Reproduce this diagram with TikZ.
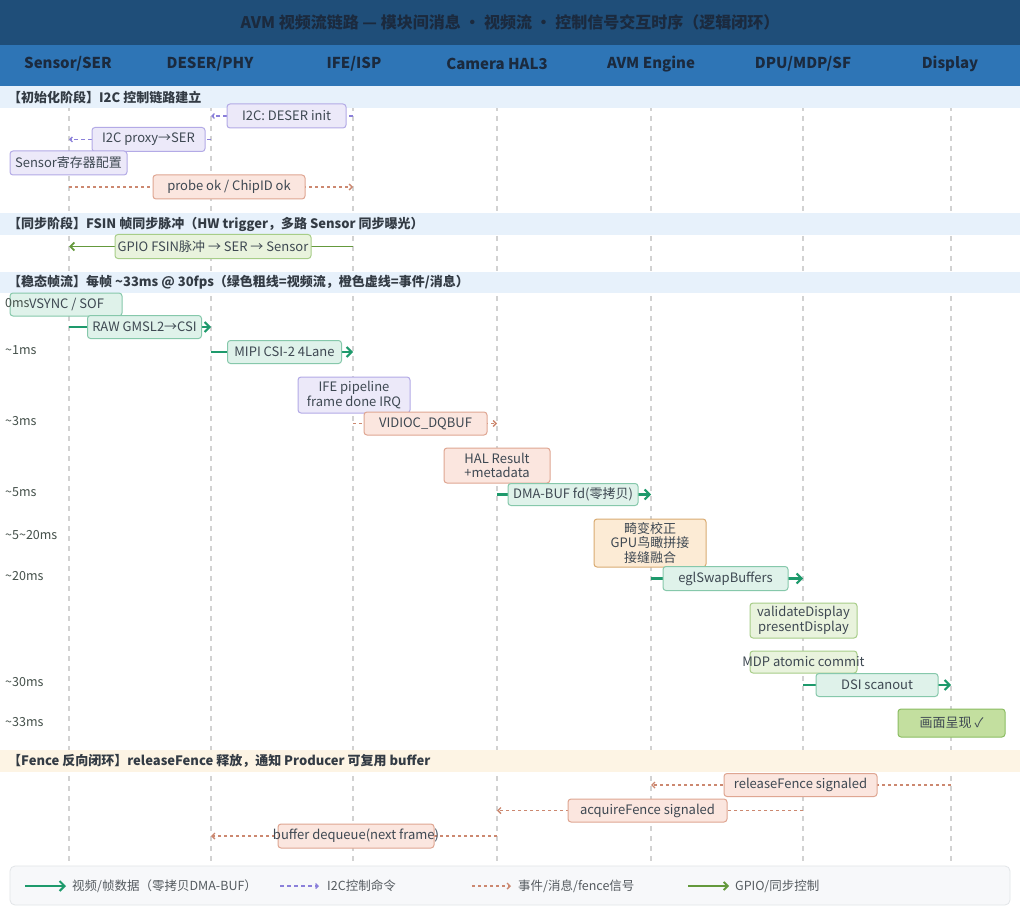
\documentclass[tikz,border=0pt]{standalone}
\usepackage{fontspec}
\setmainfont{Noto Sans CJK SC}
\usetikzlibrary{arrows.meta}
\definecolor{titlebg}{HTML}{1F4E79}
\definecolor{headbg}{HTML}{2E75B6}
\definecolor{headtxt}{HTML}{1B2A3E}
\definecolor{bandblue}{HTML}{E7F1FB}
\definecolor{bandcream}{HTML}{FDF4E4}
\definecolor{bandtxt}{HTML}{333B44}
\definecolor{lifegray}{HTML}{D2D2D2}
\definecolor{videoc}{HTML}{1E9A6C}
\definecolor{i2cc}{HTML}{8B80DA}
\definecolor{evtc}{HTML}{CC8870}
\definecolor{gpioc}{HTML}{64993C}
\definecolor{boxtext}{HTML}{3E4852}
\definecolor{timec}{HTML}{44504A}
\definecolor{pfill}{HTML}{ECE9F9}\definecolor{pdraw}{HTML}{B3AAE6}
\definecolor{ofill}{HTML}{FBE6DF}\definecolor{odraw}{HTML}{DFA692}
\definecolor{tfill}{HTML}{DFF2EA}\definecolor{tdraw}{HTML}{86C8AB}
\definecolor{gfill}{HTML}{E9F3DD}\definecolor{gdraw}{HTML}{A7CD88}
\definecolor{afill}{HTML}{FCEBD5}\definecolor{adraw}{HTML}{D9AB72}
\definecolor{ffill}{HTML}{C3DF9F}\definecolor{fdraw}{HTML}{8BBD62}
\definecolor{legfill}{HTML}{F7F8FA}\definecolor{legdraw}{HTML}{E2E5E8}
\definecolor{legtxt}{HTML}{555B60}
\pgfdeclarelayer{bg}\pgfdeclarelayer{conn}
\pgfsetlayers{bg,conn,main}
\tikzset{
  lifeline/.style={draw=lifegray, line width=1.3pt, dash pattern=on 5pt off 5pt},
  video/.style={draw=videoc, line width=2.2pt, -{Straight Barb[length=5pt,width=10pt,line width=2pt]}},
  i2c/.style={draw=i2cc, line width=1.4pt, dash pattern=on 4pt off 3pt, -{Straight Barb[length=2.5pt,width=5pt]}},
  evt/.style={draw=evtc, line width=1.4pt, dash pattern=on 3pt off 3pt, -{Straight Barb[length=3pt,width=6pt]}},
  gpio/.style={draw=gpioc, line width=1.8pt, -{Straight Barb[length=4pt,width=8pt]}},
  box/.style={rounded corners=3pt, line width=1pt, inner sep=0pt, text=boxtext, align=center,
    font=\fontsize{13}{14.5}\selectfont},
  sz/.style 2 args={minimum width=#1, minimum height=#2},
  pbox/.style={box, fill=pfill, draw=pdraw},
  obox/.style={box, fill=ofill, draw=odraw},
  tbox/.style={box, fill=tfill, draw=tdraw},
  gbox/.style={box, fill=gfill, draw=gdraw},
  abox/.style={box, fill=afill, draw=adraw},
  fbox/.style={box, fill=ffill, draw=fdraw},
  head/.style={text=headtxt, font=\fontsize{15}{17}\selectfont\bfseries, inner sep=0pt},
  bandlabel/.style={anchor=west, inner sep=0pt, text=bandtxt, font=\fontsize{13}{15}\selectfont\bfseries},
  tlabel/.style={anchor=west, inner sep=0pt, text=timec, font=\fontsize{12.5}{14}\selectfont},
  leglabel/.style={anchor=west, inner sep=0pt, text=legtxt, font=\fontsize{12.5}{14}\selectfont},
}
\begin{document}
\begin{tikzpicture}[x=1pt,y=-1pt]
\useasboundingbox (0,0) rectangle (1020,912);
% title and header bars
\fill[titlebg] (0,0) rectangle (1020,45);
\fill[headbg] (0,45) rectangle (1020,86);
\node[text=headtxt, font=\fontsize{16}{18}\selectfont\bfseries, inner sep=0pt] (title) at (510,22)
  {AVM 视频流链路 — 模块间消息 · 视频流 · 控制信号交互时序（逻辑闭环）};
\node[head] (h1) at (68,64) {Sensor/SER};
\node[head] (h2) at (210,64) {DESER/PHY};
\node[head] (h3) at (354,64) {IFE/ISP};
\node[head] (h4) at (497,64) {Camera HAL3};
\node[head] (h5) at (651,64) {AVM Engine};
\node[head] (h6) at (803,64) {DPU/MDP/SF};
\node[head] (h7) at (950,64) {Display};
% lifeline ends
\coordinate (L1) at (69,86);  \coordinate (E1) at (69,862);
\coordinate (L2) at (211,86); \coordinate (E2) at (211,862);
\coordinate (L3) at (353,86); \coordinate (E3) at (353,862);
\coordinate (L4) at (497,86); \coordinate (E4) at (497,862);
\coordinate (L5) at (651,86); \coordinate (E5) at (651,862);
\coordinate (L6) at (803,86); \coordinate (E6) at (803,862);
\coordinate (L7) at (951,86); \coordinate (E7) at (951,862);
\begin{pgfonlayer}{bg}
  \fill[white] (0,86) rectangle (1020,912);
  \foreach \i in {1,...,7} {\draw[lifeline] (L\i) -- (E\i);}
  \fill[bandblue] (0,86) rectangle (1020,108);
  \fill[bandblue] (0,213) rectangle (1020,235);
  \fill[bandblue] (0,272) rectangle (1020,293);
  \fill[bandcream] (0,750) rectangle (1020,772);
\end{pgfonlayer}
% section labels
\node[bandlabel] (s1) at (8,97) {【初始化阶段】I2C 控制链路建立};
\node[bandlabel] (s2) at (8,224) {【同步阶段】FSIN 帧同步脉冲（HW trigger，多路 Sensor 同步曝光）};
\node[bandlabel] (s3) at (8,282.5) {【稳态帧流】每帧 \textasciitilde33ms @ 30fps（绿色粗线=视频流，橙色虚线=事件/消息）};
\node[bandlabel] (s4) at (8,761) {【Fence 反向闭环】releaseFence 释放，通知 Producer 可复用 buffer};
% message boxes
\node[pbox, sz={119}{24}] (m1) at (286.5,116) {I2C: DESER init};
\node[pbox, sz={113}{24}] (m2) at (148.5,139.5) {I2C proxy→SER};
\node[pbox, sz={117}{24}] (m3) at (68.5,163) {Sensor寄存器配置};
\node[obox, sz={152}{24}] (m4) at (229,187) {probe ok / ChipID ok};
\node[gbox, sz={196}{24}] (m5) at (213,246.5) {GPIO FSIN脉冲 → SER → Sensor};
\node[tbox, sz={112}{23}] (m6) at (66,304.5) {\makebox[0pt]{\hspace{1pt}VSYNC / SOF}};
\node[tbox, sz={114}{23}] (m7) at (144.5,327) {RAW GMSL2→CSI};
\node[tbox, sz={114}{23}] (m8) at (284.5,352) {MIPI CSI-2 4Lane};
\node[pbox, sz={112}{36}] (m9) at (354,395) {IFE pipeline\\frame done IRQ};
\node[obox, sz={123}{23}] (m10) at (425.5,423.5) {VIDIOC\_DQBUF};
\node[obox, sz={106}{35}] (m11) at (497,465.5) {HAL Result\\+metadata};
\node[tbox, sz={130}{22}] (m12) at (573,494.5) {DMA-BUF fd(零拷贝)};
\node[abox, sz={112}{48}] (m13) at (650,543) {畸变校正\\GPU鸟瞰拼接\\接缝融合};
\node[tbox, sz={125}{24}] (m14) at (725.5,578.5) {eglSwapBuffers};
\node[gbox, sz={107}{35}] (m15) at (803.5,620.5) {validateDisplay\\presentDisplay};
\node[gbox, sz={107}{22}] (m16) at (803.5,662) {\makebox[0pt]{MDP atomic commit}};
\node[tbox, sz={122}{23}] (m17) at (877,685) {DSI scanout};
\node[fbox, sz={107}{28}] (m18) at (951.5,723) {画面呈现 ✓};
\node[obox, sz={153}{23}] (m19) at (800.5,785) {releaseFence signaled};
\node[obox, sz={159}{23}] (m20) at (647.5,810.5) {acquireFence signaled};
\node[obox, sz={156}{24}] (m21) at (356,836) {\makebox[0pt]{buffer dequeue(next frame)}};
% connectors
\begin{pgfonlayer}{conn}
  \draw[i2c] (L3 |- m1) -- (L2 |- m1);
  \draw[i2c] (L2 |- m2) -- (L1 |- m2);
  \draw[evt] (L1 |- m4) -- (L3 |- m4);
  \draw[gpio] (L3 |- m5) -- (L1 |- m5);
  \draw[video] (L1 |- m7) -- (L2 |- m7);
  \draw[video] (L2 |- m8) -- (L3 |- m8);
  \draw[evt] (L3 |- m10) -- (L4 |- m10);
  \draw[video] (L4 |- m12) -- (L5 |- m12);
  \draw[video] (L5 |- m14) -- (L6 |- m14);
  \draw[video] (L6 |- m17) -- (L7 |- m17);
  \draw[evt] (L7 |- m19) -- (L5 |- m19);
  \draw[evt] (L6 |- m20) -- (L4 |- m20);
  \draw[evt] (L4 |- m21) -- (L2 |- m21);
\end{pgfonlayer}
% time labels
\node[tlabel] (t0) at (5,303) {0ms};
\node[tlabel] (t1) at (5,350.5) {\textasciitilde1ms};
\node[tlabel] (t3) at (5,421.5) {\textasciitilde3ms};
\node[tlabel] (t5) at (5,492) {\textasciitilde5ms};
\node[tlabel] (t520) at (5,535) {\textasciitilde5\textasciitilde20ms};
\node[tlabel] (t20) at (5,576) {\textasciitilde20ms};
\node[tlabel] (t30) at (5,682) {\textasciitilde30ms};
\node[tlabel] (t33) at (5,722.5) {\textasciitilde33ms};
% legend
\node[draw=legdraw, fill=legfill, rounded corners=5pt, line width=0.8pt, minimum width=1000, minimum height=39, inner sep=0pt] (legend) at (510,885.5) {};
\coordinate (a1s) at (25,886);  \coordinate (a1e) at (66,886);
\coordinate (a2s) at (280,886); \coordinate (a2e) at (319,886);
\coordinate (a3s) at (472,886); \coordinate (a3e) at (511,886);
\coordinate (a4s) at (688,886); \coordinate (a4e) at (729,886);
\draw[video] (a1s) -- (a1e);
\draw[i2c] (a2s) -- (a2e);
\draw[evt] (a3s) -- (a3e);
\draw[gpio] (a4s) -- (a4e);
\node[leglabel] (g1) at (72,886) {视频/帧数据（零拷贝DMA-BUF）};
\node[leglabel] (g2) at (327,886) {I2C控制命令};
\node[leglabel] (g3) at (518,886) {事件/消息/fence信号};
\node[leglabel] (g4) at (735,886) {GPIO/同步控制};
\end{tikzpicture}
\end{document}
